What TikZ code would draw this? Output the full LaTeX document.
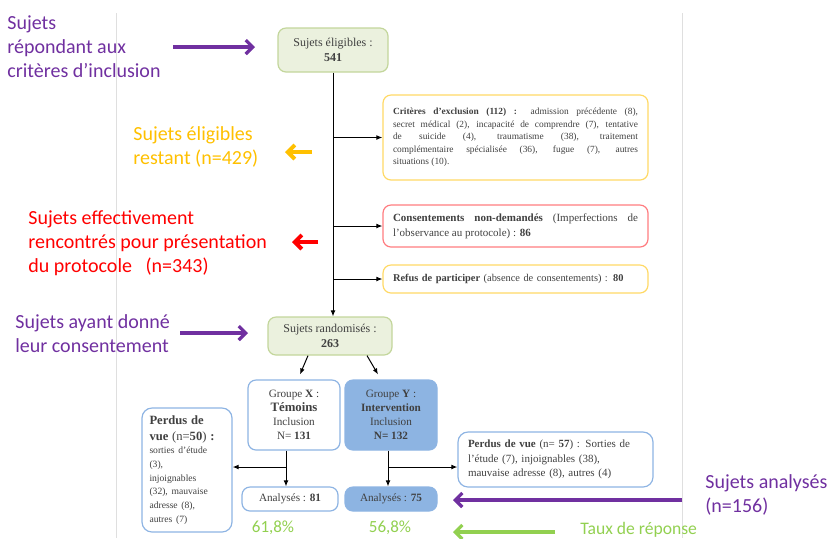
\documentclass[tikz,border=0pt]{standalone}
\usepackage{fontspec}
\setmainfont{Liberation Serif}
\newfontfamily\calib{Carlito}
\usetikzlibrary{arrows.meta}
\definecolor{violet1}{HTML}{7030A0}
\definecolor{orange1}{HTML}{FFC000}
\definecolor{rouge1}{HTML}{FF0000}
\definecolor{vert1}{HTML}{92D050}
\definecolor{vertclair}{HTML}{EBF1DE}
\definecolor{vertbord}{HTML}{C3D69B}
\definecolor{jaune1}{HTML}{FFD966}
\definecolor{rose1}{HTML}{FF7C80}
\definecolor{bleu1}{HTML}{8EB4E3}
\definecolor{bleufond}{HTML}{8DB4E2}
\definecolor{gristexte}{HTML}{404040}
\hyphenpenalty=10000
\begin{document}
\begin{tikzpicture}[x=0.5pt,y=-0.5pt,
  fleche/.style={-{Latex[length=3pt,width=2.4pt]},line width=0.5pt},
  grosse/.style={-{Straight Barb[length=3.5pt,width=7pt]},line width=1.6pt},
  etiq/.style={anchor=west,align=left,inner sep=0pt,font=\calib\fontsize{10}{12}\selectfont},
  boite/.style={rounded corners=4pt,line width=0.6pt,inner sep=0pt,text=gristexte,align=center},
  vertboite/.style={boite,draw=vertbord,fill=vertclair,font=\fontsize{6}{7.5}\selectfont},
  critere/.style={boite,minimum width=132.5pt,text width=122.5pt,align=justify,
    font=\fontsize{4.7}{6.2}\selectfont},
  bleuboite/.style={boite,draw=bleu1,font=\fontsize{5.6}{7}\selectfont},
  pct/.style={inner sep=0pt,text=vert1,font=\calib\fontsize{8.5}{10}\selectfont}]
\useasboundingbox (0,0) rectangle (828,538);
\draw[gray!25,line width=0.5pt] (116,13) -- (116,538) (682,13) -- (682,538);

\node[vertboite,minimum width=55pt,minimum height=22pt] (elig) at (333,50) {Sujets éligibles :\\\textbf{541}};
\node[critere,draw=jaune1,minimum height=42.5pt] (excl) at (515.5,137.5) {\textbf{Critères d'exclusion (112) :} admission précédente (8),\linebreak
  secret médical (2), incapacité de comprendre (7), tentative\linebreak
  de suicide (4), traumatisme (38), traitement\linebreak
  complémentaire spécialisée (36), fugue (7), autres\linebreak
  situations (10).};
\node[critere,draw=rose1,minimum height=21pt,font=\fontsize{5.5}{7.5}\selectfont] (cons) at (515.5,226)
  {\textbf{Consentements non-demandés} (Imperfections de\linebreak l'observance au protocole) : \textbf{86}};
\node[critere,draw=jaune1,minimum height=14pt,align=left,font=\fontsize{5.2}{7.5}\selectfont] (refus) at (515.5,279)
  {\textbf{Refus de participer} (absence de consentements) : \textbf{80}};
\node[vertboite,minimum width=62pt,minimum height=19pt] (rand) at (330,336) {Sujets randomisés :\\\textbf{263}};

\draw[fleche] (elig.south) -- (elig.south |- rand.north);
\foreach \b in {excl,cons,refus}
{ \draw[fleche] (elig.south |- \b.west) -- (\b.west);
}

\node[bleuboite,fill=white,minimum width=46pt,minimum height=35pt] (grpX) at (294,415)
  {Groupe \textbf{X} :\\{\fontsize{6.4}{7}\selectfont\textbf{Témoins}}\\Inclusion\\N= \textbf{131}};
\node[bleuboite,fill=bleufond,minimum width=46pt,minimum height=35pt] (grpY) at (391,415)
  {Groupe \textbf{Y} :\\\textbf{Intervention}\\Inclusion\\\textbf{N= 132}};
\draw[fleche] ([xshift=-11pt]rand.south) -- ([shift={(3pt,2.5pt)}]grpX.north);
\draw[fleche] ([xshift=18.5pt]rand.south) -- ([shift={(-6.5pt,2.5pt)}]grpY.north);

\node[bleuboite,rounded corners=5pt,minimum width=45pt,minimum height=62pt,text width=37.5pt,align=left] (perdX) at (187,470)
  {\fontsize{6.3}{8}\selectfont\textbf{Perdus de}\\\textbf{vue} (n=\textbf{50}) \textbf{:}\par
   \fontsize{4.8}{6.8}\selectfont sorties d'étude\\(3),\\injoignables\\(32), mauvaise\\adresse (8),\\autres (7)};
\node[bleuboite,minimum width=48pt,minimum height=12pt] (an81) at (290,499) {Analysés : \textbf{81}};
\node[bleuboite,fill=bleufond,minimum width=46pt,minimum height=12pt] (an75) at (391,499) {Analysés : \textbf{75}};
\node[bleuboite,rounded corners=5pt,minimum width=97.5pt,minimum height=27.5pt,text width=87.5pt,align=left,
  font=\fontsize{5.5}{7.2}\selectfont] (perdY) at (555.5,459.5)
  {\textbf{Perdus de vue} (n= \textbf{57}) : Sorties de\\l'étude (7), injoignables (38),\\mauvaise adresse (8), autres (4)};

\coordinate (jx) at (286,467);
\coordinate (jy) at (388,467);
\draw (jx |- grpX.south) -- (jx);
\draw[fleche] (jx) -- (jx |- an81.north);
\draw[fleche] (jx) -- (jx -| perdX.east);
\draw (jy |- grpY.south) -- (jy);
\draw[fleche] (jy) -- (jy |- an75.north);
\draw[fleche] (jy) -- (jy -| perdY.west);

\node[pct] (pX) at (273,528) {61,8\%};
\node[pct] (pY) at (390,528) {56,8\%};

\node[etiq,text=violet1] (incl) at (7,47) {Sujets\\répondant aux\\critères d’inclusion};
\node[etiq,text=orange1] (rest) at (133,146.5) {Sujets éligibles\\restant (n=429)};
\node[etiq,text=rouge1] (renc) at (28,243) {Sujets effectivement\\rencontrés pour présentation\\du protocole\ \ \ (n=343)};
\node[etiq,text=violet1] (accord) at (15,334) {Sujets ayant donné\\leur consentement};
\node[etiq,text=violet1] (anal) at (705,495) {Sujets analysés\\(n=156)};
\node[etiq,text=vert1,font=\calib\fontsize{8.8}{10}\selectfont] (taux) at (580,530) {Taux de réponse};

\coordinate (v1a) at (173,47);  \coordinate (v1b) at (255,47);
\coordinate (v2a) at (180,333); \coordinate (v2b) at (248,333);
\coordinate (o1a) at (312,152); \coordinate (o1b) at (285,152);
\coordinate (r1a) at (318,242); \coordinate (r1b) at (292,242);
\coordinate (v3a) at (682,500); \coordinate (v3b) at (453,500);
\coordinate (g1a) at (555,532); \coordinate (g1b) at (453,532);
\draw[grosse,violet1] (v1a) -- (v1b);
\draw[grosse,violet1] (v2a) -- (v2b);
\draw[grosse,orange1,line width=2pt] (o1a) -- (o1b);
\draw[grosse,rouge1,line width=2pt] (r1a) -- (r1b);
\draw[grosse,violet1] (v3a) -- (v3b);
\draw[grosse,vert1] (g1a) -- (g1b);
\end{tikzpicture}
\end{document}
